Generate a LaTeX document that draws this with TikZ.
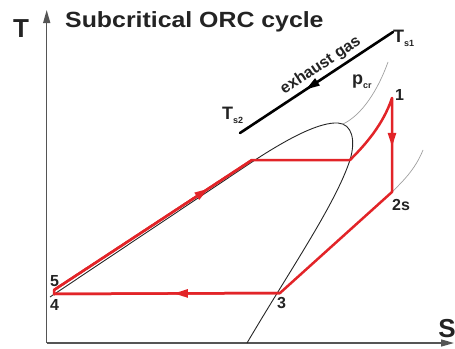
\documentclass[tikz,border=0pt]{standalone}
\usepackage{fontspec}
\setmainfont{Liberation Sans}
\usetikzlibrary{arrows.meta,decorations.markings}
\definecolor{cyclered}{RGB}{226,36,40}
\definecolor{axisgray}{RGB}{85,85,85}
\definecolor{txtgray}{RGB}{35,35,35}
\tikzset{
  axisline/.style={draw=axisgray, line width=1.4pt},
  cyc/.style={draw=cyclered, line width=2.5pt, line join=round, line cap=round},
  domeline/.style={draw=black!85, line width=0.9pt},
  isobar/.style={draw=gray!75, line width=0.7pt},
  gasline/.style={draw=black, line width=2.6pt, line cap=round},
  arrowat/.style={postaction={decorate}, decoration={markings, mark=at position #1 with {\arrow{Triangle[length=14pt,width=8pt]}}}},
  lbl/.style={font=\bfseries\fontsize{16}{16}\selectfont, inner sep=0pt, text=txtgray},
  biglbl/.style={font=\bfseries\fontsize{26}{26}\selectfont, inner sep=0pt, text=txtgray},
  tlbl/.style={font=\bfseries\fontsize{18}{18}\selectfont, inner sep=0pt, text=txtgray},
}
\newcommand{\subtxt}[1]{{\fontsize{9}{9}\selectfont\raisebox{-4pt}{#1}}}
\begin{document}
\begin{tikzpicture}[x=1pt,y=-1pt]
\useasboundingbox (0,0) rectangle (455,348);
% axes
\coordinate (O) at (46.7,343);
\coordinate (Ttip) at (46.7,10);
\coordinate (Stip) at (454,343);
\draw[axisline, -{Triangle[length=13pt,width=7pt]}] (O) -- (Ttip);
\draw[axisline, -{Triangle[length=13pt,width=7pt]}] (O) -- (Stip);
\node[biglbl, anchor=base] (Tlab) at (21,37) {T};
\node[biglbl, anchor=base] (Slab) at (447,337) {S};
\node[anchor=base west, inner sep=0pt, text=txtgray, font=\bfseries\fontsize{22}{22}\selectfont, xscale=1.13] (title) at (65,27.5) {Subcritical ORC cycle};
% points
\coordinate (p1) at (392,98);
\coordinate (p2) at (392,192);
\coordinate (p3) at (280,293);
\coordinate (p4) at (54,294);
\coordinate (p5) at (54,290);
\coordinate (a) at (252,160);
\coordinate (b) at (350,160);
\coordinate (domeL) at (50,297);
\coordinate (domeA) at (252,162);
\coordinate (domeTop) at (338,123);
\coordinate (domeR) at (350,160);
\coordinate (domeEnd) at (247,343);
% saturation dome
\draw[domeline] (domeL) -- (domeA) .. controls (290,137) and (320,122) .. (domeTop)
  .. controls (352,124) and (356,140) .. (domeR)
  .. controls (335,205) and (290,270) .. (domeEnd);
% isobars
\coordinate (pcrEnd) at (388,62);
\coordinate (pcrStart) at (343,124);
\draw[isobar] (pcrStart) .. controls (362,115) and (378,90) .. (pcrEnd);
\coordinate (isoEnd) at (423,150);
\draw[isobar] (p2) .. controls (402,182) and (415,170) .. (isoEnd);
% cycle
\draw[cyc] (p3) -- (p4) -- (p5) -- (a) -- (b) .. controls (365,145) and (383,125) .. (p1) -- (p2) -- (p3);
\draw[cyc, arrowat=0.47] (p3) -- (p4);
\draw[cyc, arrowat=0.78] (p5) -- (a);
\draw[cyc, arrowat=0.52] (p1) -- (p2);
% exhaust gas
\coordinate (s1) at (393,32);
\coordinate (s2) at (240,133);
\draw[gasline, arrowat=0.57] (s1) -- (s2);
\path (s2) -- (s1) node[pos=0.57, sloped, above=4pt, inner sep=0pt, text=txtgray, font=\bfseries\fontsize{16}{16}\selectfont] (gas) {exhaust gas};
% labels
\node[tlbl, anchor=base west] (Ts1) at (393,42) {T\subtxt{s1}};
\node[tlbl, anchor=base west] (Ts2) at (222,119) {T\subtxt{s2}};
\node[tlbl, anchor=base west] (pcr) at (352,84) {p\subtxt{cr}};
\node[lbl, anchor=base west] (l1) at (395,100) {1};
\node[lbl, anchor=base west] (l2) at (392,210) {2s};
\node[lbl, anchor=base west] (l3) at (277,308) {3};
\node[lbl, anchor=base west] (l4) at (50,310) {4};
\node[lbl, anchor=base west] (l5) at (50,286) {5};
\end{tikzpicture}
\end{document}
